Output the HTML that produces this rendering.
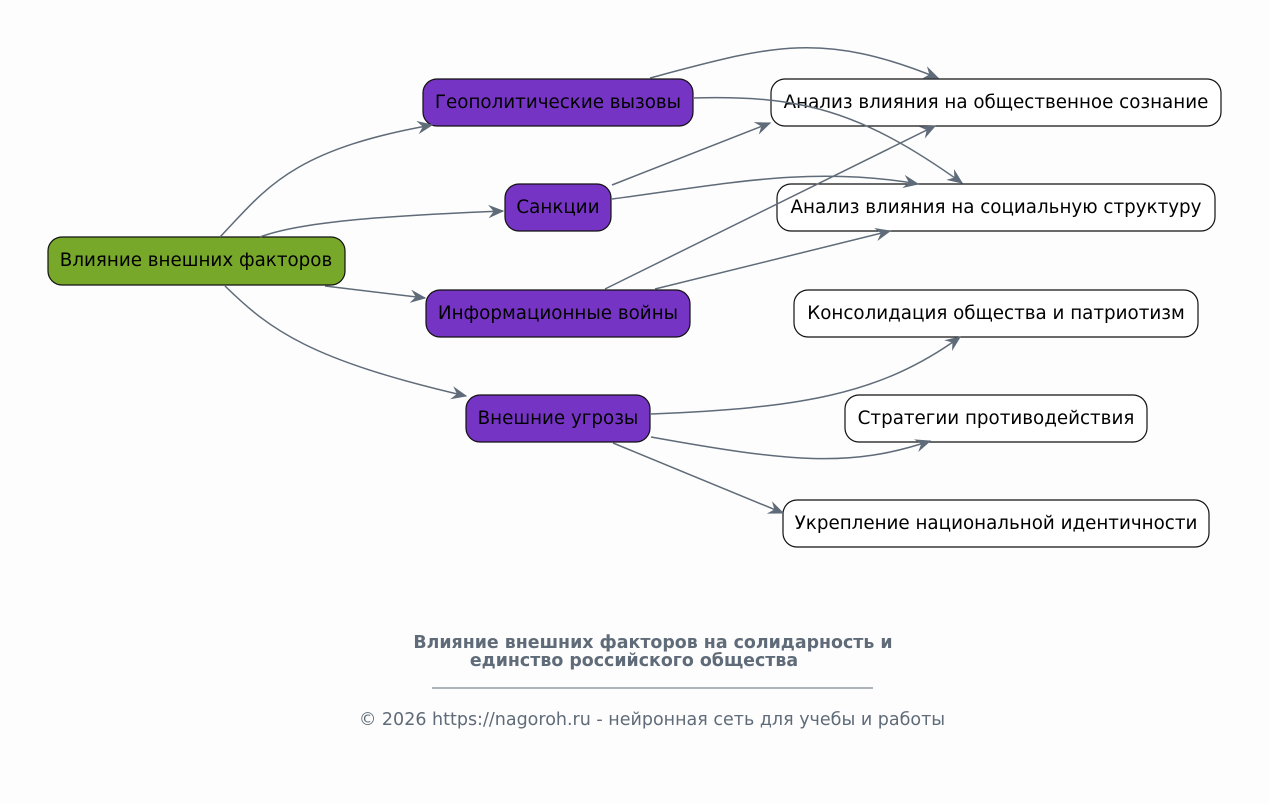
<!DOCTYPE html>
<html><head><meta charset="utf-8"><style>
html,body{margin:0;padding:0;background:#fdfdfd;}
svg{display:block;font-family:"DejaVu Sans","Liberation Sans",sans-serif;}
</style></head><body>
<svg width="1269" height="804" viewBox="0 0 1269 804" xmlns="http://www.w3.org/2000/svg">
<defs>
<marker id="a" viewBox="0 0 12 10" refX="11" refY="5" markerWidth="16" markerHeight="14" markerUnits="userSpaceOnUse" orient="auto">
<path d="M0,0 L12,5 L0,10 L4,5 z" fill="#5f6b78"/>
</marker>
</defs>
<rect width="1269" height="804" fill="#fdfdfd"/>
<g stroke="#111" stroke-width="1.2">
<rect x="48" y="237" width="297" height="48" rx="14" fill="#78a82a"/>
<rect x="423" y="79" width="270" height="47" rx="14" fill="#7634c4"/>
<rect x="505" y="184" width="106" height="47" rx="14" fill="#7634c4"/>
<rect x="426" y="290" width="264" height="47" rx="14" fill="#7634c4"/>
<rect x="466" y="395" width="184" height="47" rx="14" fill="#7634c4"/>
<rect x="771" y="79" width="450" height="47" rx="14" fill="#fff"/>
<rect x="777" y="184" width="438" height="47" rx="14" fill="#fff"/>
<rect x="794" y="290" width="404" height="47" rx="14" fill="#fff"/>
<rect x="845" y="395" width="302" height="47" rx="14" fill="#fff"/>
<rect x="783" y="500" width="426" height="47" rx="14" fill="#fff"/>
</g>
<g font-size="18.3" fill="#000" text-anchor="middle">
<text x="196" y="266">Влияние внешних факторов</text>
<text x="558" y="108">Геополитические вызовы</text>
<text x="558" y="213">Санкции</text>
<text x="558" y="319">Информационные войны</text>
<text x="558" y="424">Внешние угрозы</text>
<text x="996" y="108">Анализ влияния на общественное сознание</text>
<text x="996" y="213">Анализ влияния на социальную структуру</text>
<text x="996" y="319">Консолидация общества и патриотизм</text>
<text x="996" y="424">Стратегии противодействия</text>
<text x="996" y="529">Укрепление национальной идентичности</text>
</g>
<g fill="none" stroke="#5f6b78" stroke-width="1.5" marker-end="url(#a)">
<path d="M220,237 C265,190 290,150 432,125"/>
<path d="M260,237 C300,222 380,216 503,211"/>
<path d="M325,286 L425,298"/>
<path d="M225,286 C270,330 310,360 466,396"/>
<path d="M650,78 C770,46 820,30 938,78"/>
<path d="M693,98 C800,95 860,110 962,183"/>
<path d="M612,185 L770,123"/>
<path d="M612,199 C720,185 810,165 918,184"/>
<path d="M605,289 L935,126"/>
<path d="M655,289 L890,231"/>
<path d="M651,414 C800,408 880,395 960,337"/>
<path d="M651,437 C790,462 850,468 930,441"/>
<path d="M613,443 L783,513"/>
</g>
<g fill="#5f6b78" text-anchor="middle">
<text x="653" y="648" font-size="17.4" font-weight="bold">Влияние внешних факторов на солидарность и</text>
<text x="634" y="666" font-size="17.4" font-weight="bold">единство российского общества</text>
<line x1="432" y1="688" x2="873" y2="688" stroke="#5f6b78" stroke-width="1"/>
<text x="652" y="725" font-size="17.5">© 2026 https://nagoroh.ru - нейронная сеть для учебы и работы</text>
</g>
</svg>
</body></html>
